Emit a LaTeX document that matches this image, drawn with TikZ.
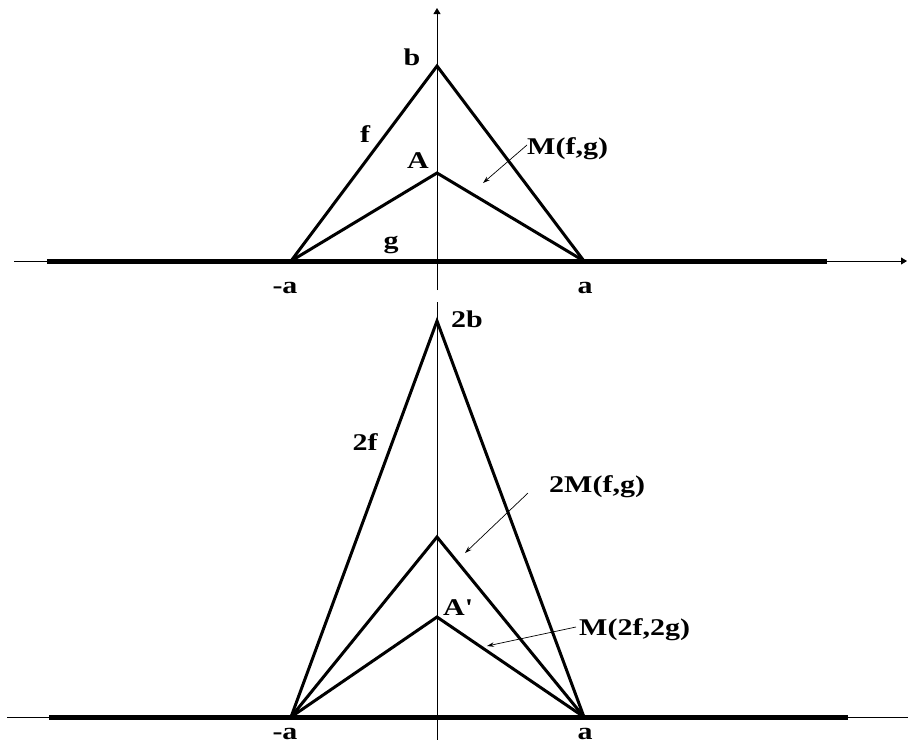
\documentclass[tikz,border=0pt]{standalone}
\usepackage{fontspec}
\setmainfont{Liberation Serif}[FakeStretch=1.25]
\usetikzlibrary{arrows.meta}
\begin{document}
\begin{tikzpicture}[x=1pt,y=-1pt,
  axis/.style={line width=0.8pt},
  base/.style={line width=5pt},
  curve/.style={line width=3pt,line join=miter},
  lbl/.style={inner sep=0pt,font=\bfseries\fontsize{24}{24}\selectfont},
  note/.style={line width=0.7pt,-{Stealth[length=7pt,width=4.5pt]}}]
\useasboundingbox (0,0) rectangle (908,745);
% ---------- top ----------
\coordinate (tl) at (14,261);
\coordinate (tr) at (907,261);
\coordinate (tb) at (437,290);
\coordinate (tt) at (437,8);
\coordinate (tkl) at (47,261);
\coordinate (tkr) at (827,261);
\coordinate (ma) at (291,261);
\coordinate (pa) at (584,261);
\coordinate (pb) at (437,66);
\coordinate (pA) at (437,173);
\draw[base] (tkl) -- (tkr);
\draw[axis,-{Triangle[length=6pt,width=7pt]}] (tl) -- (tr);
\draw[axis,-{Triangle[length=6pt,width=7pt]}] (tb) -- (tt);
\draw[curve] (ma) -- (pb) -- (pa);
\draw[curve] (ma) -- (pA) -- (pa);
\node[lbl,anchor=base] (lb) at (412,65) {b};
\node[lbl,anchor=base] (lf) at (365,142) {f};
\node[lbl,anchor=base] (lA) at (418,168) {A};
\node[lbl,anchor=base] (lg) at (391,248) {g};
\node[lbl,anchor=base west] (lM) at (527,154) {M(f,g)};
\node[lbl,anchor=base] (lma) at (285,293) {-a};
\node[lbl,anchor=base] (lpa) at (585,293) {a};
\coordinate (n1s) at (527,145);
\coordinate (n1e) at (483,183);
\draw[note] (n1s) -- (n1e);
% ---------- bottom ----------
\coordinate (bl) at (7,717);
\coordinate (br) at (908,717);
\coordinate (bb) at (437,740);
\coordinate (bt) at (437,302);
\coordinate (bkl) at (49,717);
\coordinate (bkr) at (848,717);
\coordinate (mb) at (291,717);
\coordinate (pc) at (584,717);
\coordinate (q2b) at (437,321);
\coordinate (q2M) at (437,537);
\coordinate (qA) at (437,617);
\draw[base] (bkl) -- (bkr);
\draw[axis] (bl) -- (br);
\draw[axis] (bt) -- (bb);
\draw[curve] (mb) -- (q2b) -- (pc);
\draw[curve] (mb) -- (q2M) -- (pc);
\draw[curve] (mb) -- (qA) -- (pc);
\node[lbl,anchor=base] (l2b) at (467,327) {2b};
\node[lbl,anchor=base] (l2f) at (365,450) {2f};
\node[lbl,anchor=base west] (l2M) at (549,492) {2M(f,g)};
\node[lbl,anchor=base west] (lAp) at (443,615) {A\textquotesingle};
\node[lbl,anchor=base west] (lM2) at (579,635) {M(2f,2g)};
\node[lbl,anchor=base] (lmb) at (285,739) {-a};
\node[lbl,anchor=base] (lpc) at (585,739) {a};
\coordinate (n2s) at (528,493);
\coordinate (n2e) at (465,553);
\draw[note] (n2s) -- (n2e);
\coordinate (n3s) at (576,627);
\coordinate (n3e) at (487,646);
\draw[note] (n3s) -- (n3e);
\end{tikzpicture}
\end{document}
